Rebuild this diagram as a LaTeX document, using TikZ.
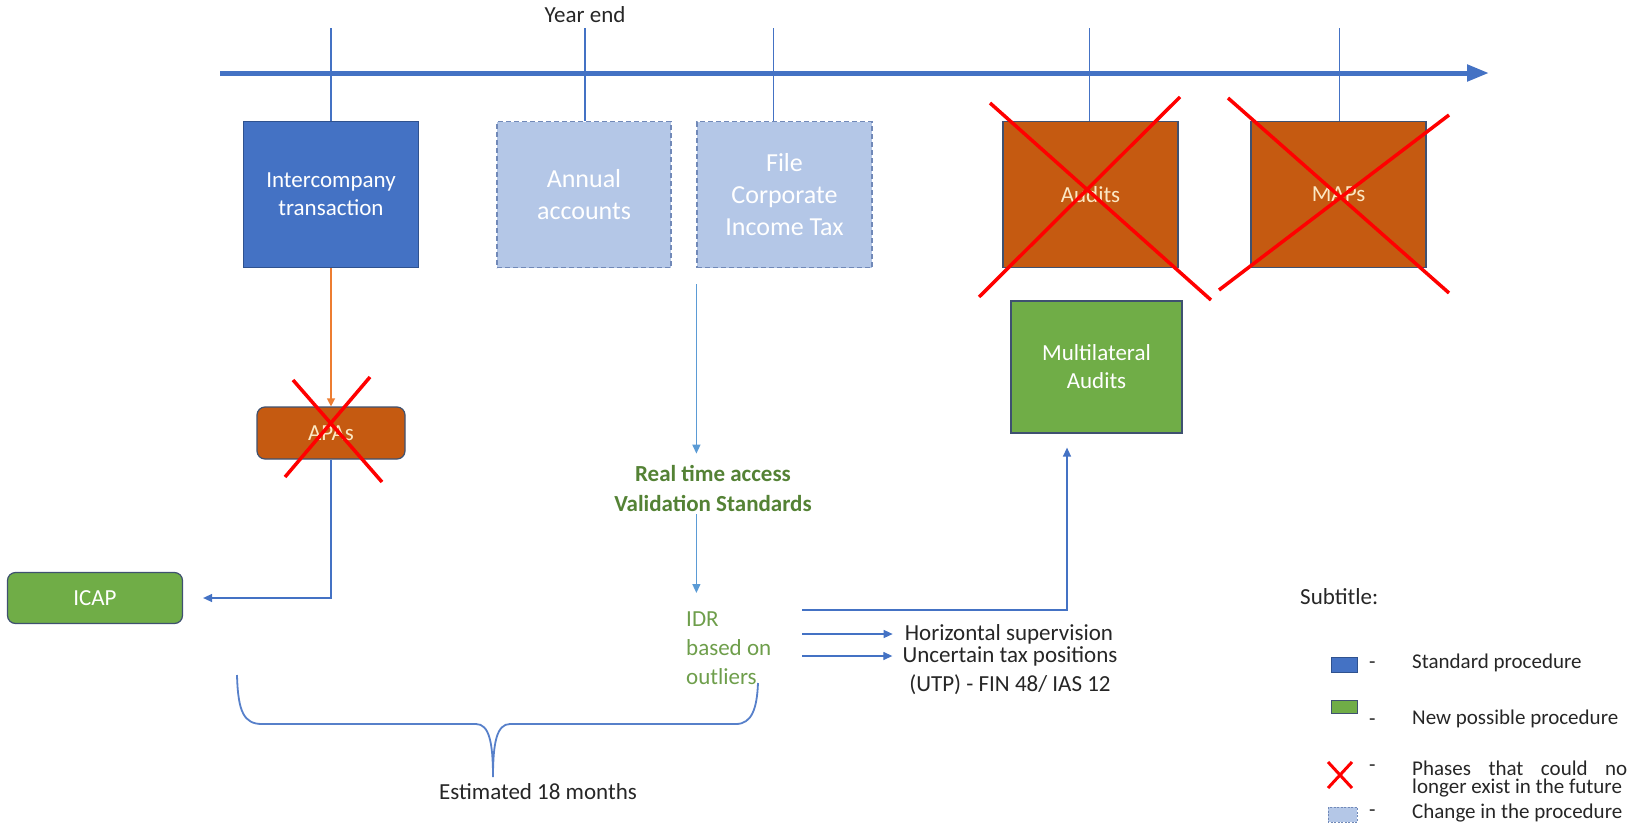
\documentclass[tikz,border=0pt]{standalone}
\usepackage{fontspec}
\setmainfont{Carlito}
\usetikzlibrary{positioning,arrows.meta,calc}
\definecolor{std}    {HTML}{4472C4}
\definecolor{stdedge}{HTML}{2F528F}
\definecolor{chg}    {HTML}{B4C7E7}
\definecolor{chgedge}{HTML}{7189B8}
\definecolor{drop}   {HTML}{C55A11}
\definecolor{newp}   {HTML}{70AD47}
\definecolor{edge}   {HTML}{3F5170}
\definecolor{cross}  {HTML}{FF0000}
\definecolor{feed}   {HTML}{ED7D31}
\definecolor{flow}   {HTML}{5B9BD5}
\definecolor{idrtxt} {HTML}{6E9E4B}
\definecolor{rtatxt} {HTML}{548235}
\definecolor{cream}  {HTML}{FBE8C4}
\definecolor{ink}    {HTML}{262626}

\begin{document}
\begin{tikzpicture}[x=1pt,y=-1pt,font=\fontsize{23}{28}\selectfont,
  box/.style={draw,line width=1.2pt,minimum width=175pt,minimum height=146pt,
    align=center,text=white,inner sep=0pt},
  stdbox/.style={box,fill=std,draw=stdedge},
  chgbox/.style={box,fill=chg,draw=chgedge,dash pattern=on 5pt off 3pt,
    font=\fontsize{26}{32}\selectfont},
  dropbox/.style={box,fill=drop,draw=edge,text=cream},
  newbox/.style={box,fill=newp,draw=edge},
  pill/.style={rounded corners=8pt,minimum height=52pt},
  conn/.style={draw=std,line width=1.3pt,-{Triangle[length=9pt,width=8pt]}},
  xline/.style={draw=cross,line width=3.5pt},
  plain/.style={inner sep=0pt,text=ink},
  key/.style={plain,anchor=west,font=\fontsize{21}{20}\selectfont}]
  \useasboundingbox (0,0) rectangle (1630,830);

  \coordinate (tk) at (0,28);
  \draw[std,line width=5pt,-{Triangle[length=22pt,width=16pt]}] (220,73) -- (1489,73);

  \node[stdbox] (ic) at (331,194.5) {Intercompany\\transaction};
  \node[chgbox,minimum width=174pt] (ann) at (584,194.5) {Annual\\accounts};
  \node[chgbox] (cit) at (784.5,194.5) {File\\Corporate\\Income Tax};
  \node[dropbox] (aud) at (1090.5,194.5) {Audits};
  \node[dropbox] (maps) at (1338.5,194.5) {MAPs};
  \node[newbox,minimum width=171pt,minimum height=132pt] (mla) at (1096.5,367) {Multilateral\\Audits};
  \node[dropbox,pill,minimum width=148pt] (apa) at (331,433) {APAs};
  \node[newbox,pill,minimum width=175pt,minimum height=51pt] (icap) at (95,598) {ICAP};
  \node[plain] (ye) at (585,15) {Year end};

  \foreach \b/\dx in {ic/0,ann/1,cit/-11,aud/-1,maps/1}
    \draw[std,line width=1.3pt] ([xshift=\dx pt]\b.north) -- ([xshift=\dx pt]\b.north |- tk);

  \node[inner sep=0pt,align=center,text=rtatxt,font=\bfseries\fontsize{23}{30}\selectfont]
    (rta) at (713,488) {Real time access\\Validation Standards};
  \node[inner sep=0pt,anchor=north west,align=left,text=idrtxt,font=\fontsize{23}{29}\selectfont]
    (idr) at (686,612) {IDR\\based on\\outliers};
  \node[plain] (hs) at (1009,634) {Horizontal supervision};
  \node[plain] (ut) at (1010,656) {Uncertain tax positions};
  \node[plain] (utp) at (1010,685) {(UTP) - FIN 48/ IAS 12};
  \coordinate (bend) at (1067,610);

  \draw[draw=feed,line width=1.3pt,-{Triangle[length=8pt,width=8pt]}] (ic.south) -- (apa.north);
  \draw[conn,shorten >=20pt] (apa.south) |- (icap.east);
  \draw[conn,draw=flow,shorten <=16pt,shorten >=11pt] (cit.south west) -- (cit.south west |- rta.north);
  \draw[conn,draw=flow,shorten <=3pt,shorten >=19pt] (rta.south -| cit.south west) -- (idr.north -| cit.south west);
  \draw[conn,shorten <=31pt,shorten >=14pt] (idr.east |- bend) -- (bend) -- (bend |- mla.south);
  \draw[conn,shorten <=31pt,shorten >=12pt] (idr.east |- hs) -- (hs.west);
  \draw[conn,shorten <=31pt,shorten >=10pt] (idr.east |- ut) -- (ut.west);

  \foreach \a/\b in {{293,380}/{382,482},{370,377}/{285,477},{990,103}/{1211,300},
    {1180,97}/{979,297},{1228,98}/{1449,293},{1449,115}/{1219,290}}
    \draw[xline] (\a) -- (\b);

  \draw[std!90,line width=1.8pt] (237,675) .. controls (238,712) and (244,724) .. (262,724)
    -- (476,724) .. controls (489,724) and (493,742) .. (493,777)
    .. controls (493,742) and (497,724) .. (510,724)
    -- (736,724) .. controls (752,724) and (757,708) .. (758,683);
  \node[plain] (est) at (538,792) {Estimated 18 months};

  \node[plain,anchor=west] (sub) at (1300,597) {Subtitle:};
  \draw[stdedge,fill=std,line width=1pt] (1331,657) rectangle (1357,672);
  \draw[edge,fill=newp,line width=1pt] (1331,700) rectangle (1357,713);
  \draw[xline,line width=3pt] (1328,762) -- (1352,788) (1352,762) -- (1328,788);
  \draw[chgedge,fill=chg,line width=1pt,dash pattern=on 2pt off 1.5pt] (1328,807) rectangle (1357,822);
  \foreach \y in {665,722,768,813}
    \node[key] (d\y) at (1369,\y) {-};
  \foreach \y/\txt in {663/Standard procedure,719/New possible procedure,
    788/longer exist in the future,813/Change in the procedure}
    \node[key] (k\y) at (1412,\y) {\txt};
  \node[key] (k768) at (1412,768) {\hbox to 215pt{Phases\hfill that\hfill could\hfill no}};
\end{tikzpicture}
\end{document}
